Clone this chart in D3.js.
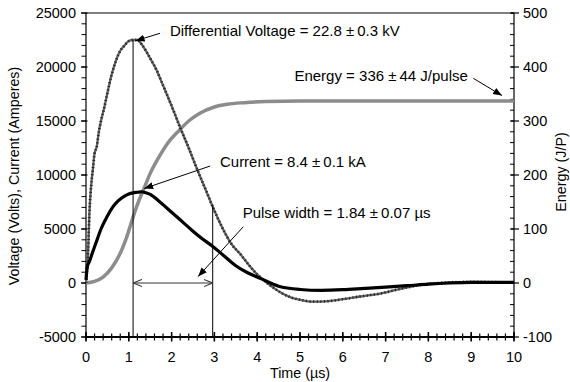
<!DOCTYPE html>
<html><head><meta charset="utf-8">
<script src="https://cdn.jsdelivr.net/npm/d3@7"></script>
<style>
html,body{margin:0;padding:0;background:#fff;}
svg{display:block;font-family:"Liberation Sans",Arial,Helvetica,sans-serif;}
</style></head>
<body>
<svg id="chart" width="570" height="382"></svg>
<script>
// ---- data ----
const timeV = [0,0.02,0.05,0.08,0.12,0.16,0.2,0.25,0.3,0.35,0.43,0.5,0.6,0.7,0.8,0.9,1.0,1.1,1.2,1.3,1.4,1.5,1.65,1.8,2.0,2.2,2.4,2.6,2.8,3.0,3.2,3.4,3.6,3.8,4.0,4.2,4.4,4.6,4.8,5.0,5.3,5.6,6.0,6.4,6.9,7.4,8.0,8.5,9.0,9.5,10];
const voltage = [0,1000,3000,6500,9000,10500,12000,12600,14000,15000,16300,17600,19300,20600,21500,22000,22400,22500,22500,22100,21500,20800,19700,18300,16400,14400,12500,10500,8600,6700,5000,3600,2700,1700,800,100,-500,-1000,-1350,-1550,-1730,-1700,-1500,-1250,-960,-490,-90,60,100,80,30];

const timeI = [0,0.03,0.08,0.15,0.25,0.35,0.5,0.62,0.75,0.9,1.0,1.1,1.2,1.3,1.4,1.5,1.7,1.9,2.1,2.3,2.5,2.7,2.97,3.2,3.5,3.8,4.07,4.5,5.0,5.5,6.0,6.5,7.0,7.5,8.0,8.5,9.0,9.5,10];
const current = [300,1500,2000,2800,3900,5000,6200,7000,7600,8050,8250,8350,8400,8450,8350,8200,7600,6900,6200,5500,4800,4150,3360,2600,1600,900,430,-300,-600,-680,-620,-500,-380,-250,-100,0,50,50,50];

const timeE = [0,0.2,0.4,0.6,0.8,0.95,1.1,1.2,1.36,1.5,1.71,1.9,2.18,2.4,2.65,3.0,3.3,3.7,4.2,5,6,7,8,9,10];
const energy = [0,3,11,28,55,85,122,145,176,203,234,258,283,300,314,326,331,334,336,337,337,337,337,337,337];

const xTicks = [0,1,2,3,4,5,6,7,8,9,10];
const yLeftTicks = [-5000,0,5000,10000,15000,20000,25000];
const yRightTicks = [-100,0,100,200,300,400,500];

const labels = {
  yLeft: "Voltage (Volts), Current (Amperes)",
  yRight: "Energy (J/P)",
  x: "Time (\u00B5s)",
  volt: "Differential Voltage = 22.8 \u00B1\u20090.3 kV",
  energy: "Energy = 336 \u00B1\u200944 J/pulse",
  current: "Current = 8.4 \u00B1\u20090.1 kA",
  pulse: "Pulse width = 1.84 \u00B1\u20090.07 \u00B5s"
};
// annotation anchors in data units (t in us, value in left-axis units)
const pulseStart = 1.1, pulseEnd = 2.96;

// ---- layout ----
const svg = d3.select("#chart");
const W = 570, H = 382;
const m = {left: 86, right: 56, top: 13, bottom: 45};
const iw = W - m.left - m.right, ih = H - m.top - m.bottom;
const g = svg.append("g").attr("transform", `translate(${m.left},${m.top})`);

const x = d3.scaleLinear().domain([0,10]).range([0,iw]);
const yL = d3.scaleLinear().domain([-5000,25000]).range([ih,0]);
const yR = d3.scaleLinear().domain([-100,500]).range([ih,0]);

// frame top
g.append("line").attr("x1",0).attr("x2",iw).attr("y1",0).attr("y2",0).attr("stroke","#000").attr("stroke-width",1);

// ---- axes ----
const tickFont = "14.5px";
// left
const gl = g.append("g");
gl.append("line").attr("x1",0).attr("x2",0).attr("y1",0).attr("y2",ih).attr("stroke","#000").attr("stroke-width",1.2);
gl.selectAll(".mn").data(d3.range(-5000,25001,1000)).join("line")
  .attr("x1",-4.5).attr("x2",0).attr("y1",d=>yL(d)).attr("y2",d=>yL(d)).attr("stroke","#000").attr("stroke-width",1);
gl.selectAll(".mj").data(yLeftTicks).join("line")
  .attr("x1",-5).attr("x2",1.5).attr("y1",d=>yL(d)).attr("y2",d=>yL(d)).attr("stroke","#000").attr("stroke-width",1.2);
gl.selectAll("text").data(yLeftTicks).join("text")
  .attr("x",-10).attr("y",d=>yL(d)).attr("dy","0.36em").attr("text-anchor","end")
  .style("font-size",tickFont).text(d=>d);

// right
const gr = g.append("g").attr("transform",`translate(${iw},0)`);
gr.append("line").attr("x1",0).attr("x2",0).attr("y1",0).attr("y2",ih).attr("stroke","#000").attr("stroke-width",1.2);
gr.selectAll(".mn").data(d3.range(-100,501,20)).join("line")
  .attr("x1",-4).attr("x2",0).attr("y1",d=>yR(d)).attr("y2",d=>yR(d)).attr("stroke","#000").attr("stroke-width",1);
gr.selectAll(".mj").data(yRightTicks).join("line")
  .attr("x1",-3).attr("x2",5).attr("y1",d=>yR(d)).attr("y2",d=>yR(d)).attr("stroke","#000").attr("stroke-width",1.2);
gr.selectAll("text").data(yRightTicks).join("text")
  .attr("x",9).attr("y",d=>yR(d)).attr("dy","0.36em").attr("text-anchor","start")
  .style("font-size",tickFont).text(d=>d);

// bottom
const gb = g.append("g").attr("transform",`translate(0,${ih})`);
gb.selectAll(".mn").data(d3.range(0,10.001,0.2)).join("line")
  .attr("x1",d=>x(d)).attr("x2",d=>x(d)).attr("y1",-3.5).attr("y2",3.5).attr("stroke","#000").attr("stroke-width",1.2);
gb.selectAll(".mj").data(xTicks).join("line")
  .attr("x1",d=>x(d)).attr("x2",d=>x(d)).attr("y1",-5).attr("y2",4.5).attr("stroke","#000").attr("stroke-width",1.5);
gb.append("line").attr("x1",0).attr("x2",iw).attr("y1",0).attr("y2",0).attr("stroke","#000").attr("stroke-width",2.2);
gb.selectAll("text").data(xTicks).join("text")
  .attr("x",d=>x(d)).attr("y",20).attr("dy","0.36em").attr("text-anchor","middle")
  .style("font-size",tickFont).text(d=>d);

// axis titles
svg.append("text").attr("transform",`translate(19,176) rotate(-90)`).attr("text-anchor","middle")
  .style("font-size","14.3px").text(labels.yLeft);
svg.append("text").attr("transform",`translate(566,172) rotate(-90)`).attr("text-anchor","middle")
  .style("font-size","14.3px").text(labels.yRight);
svg.append("text").attr("x",300).attr("y",378).attr("text-anchor","middle")
  .style("font-size","14.3px").text(labels.x);

// ---- series ----
const lineV = d3.line().x((d,i)=>x(timeV[i])).y(d=>yL(d)).curve(d3.curveMonotoneX);
const lineI = d3.line().x((d,i)=>x(timeI[i])).y(d=>yL(d)).curve(d3.curveMonotoneX);
const lineE = d3.line().x((d,i)=>x(timeE[i])).y(d=>yR(d)).curve(d3.curveMonotoneX);

g.append("path").attr("d",lineE(energy)).attr("fill","none").attr("stroke","#8c8c8c").attr("stroke-width",3.5);
g.append("path").attr("d",lineV(voltage)).attr("fill","none").attr("stroke","#606060").attr("stroke-width",2.3);
g.append("path").attr("d",lineV(voltage)).attr("fill","none").attr("stroke","#222").attr("stroke-width",2.8).attr("stroke-dasharray","1,2.6");
g.append("path").attr("d",lineI(current)).attr("fill","none").attr("stroke","#000").attr("stroke-width",3.2);

// ---- annotations ----
const defs = svg.append("defs");
defs.append("marker").attr("id","ah").attr("viewBox","0 0 10 10").attr("refX",10).attr("refY",5)
  .attr("markerWidth",9).attr("markerHeight",9).attr("markerUnits","userSpaceOnUse").attr("orient","auto")
  .append("path").attr("d","M0,1 L10,5 L0,9 z").attr("fill","#000");
defs.append("marker").attr("id","oh").attr("viewBox","0 0 10 10").attr("refX",10).attr("refY",5)
  .attr("markerWidth",9).attr("markerHeight",9).attr("markerUnits","userSpaceOnUse").attr("orient","auto-start-reverse")
  .append("path").attr("d","M0,1 L10,5 L0,9").attr("fill","none").attr("stroke","#333").attr("stroke-width",1.2);

function arrow(t1,v1,t2,v2){
  g.append("line").attr("x1",x(t1)).attr("y1",yL(v1)).attr("x2",x(t2)).attr("y2",yL(v2))
    .attr("stroke","#000").attr("stroke-width",1).attr("marker-end","url(#ah)");
}
// pulse width verticals
g.append("line").attr("x1",x(pulseStart)).attr("x2",x(pulseStart)).attr("y1",yL(22450)).attr("y2",ih).attr("stroke","#000").attr("stroke-width",1);
g.append("line").attr("x1",x(pulseEnd)).attr("x2",x(pulseEnd)).attr("y1",yL(7200)).attr("y2",ih).attr("stroke","#000").attr("stroke-width",1);
g.append("line").attr("x1",x(pulseStart)).attr("x2",x(pulseEnd)).attr("y1",yL(0)).attr("y2",yL(0))
  .attr("stroke","#333").attr("stroke-width",1).attr("marker-start","url(#oh)").attr("marker-end","url(#oh)");

arrow(1.73,23120,1.16,22430);
arrow(9.05,18950,9.72,17350);
arrow(2.9,10830,1.36,8750);
arrow(3.675,5210,2.62,600);

function label(t,v,s){
  g.append("text").attr("x",x(t)).attr("y",yL(v)).style("font-size","15px").text(s);
}
label(1.96,22900,labels.volt);
label(4.87,18750,labels.energy);
label(3.13,10700,labels.current);
label(3.66,5980,labels.pulse);
</script>
</body></html>
